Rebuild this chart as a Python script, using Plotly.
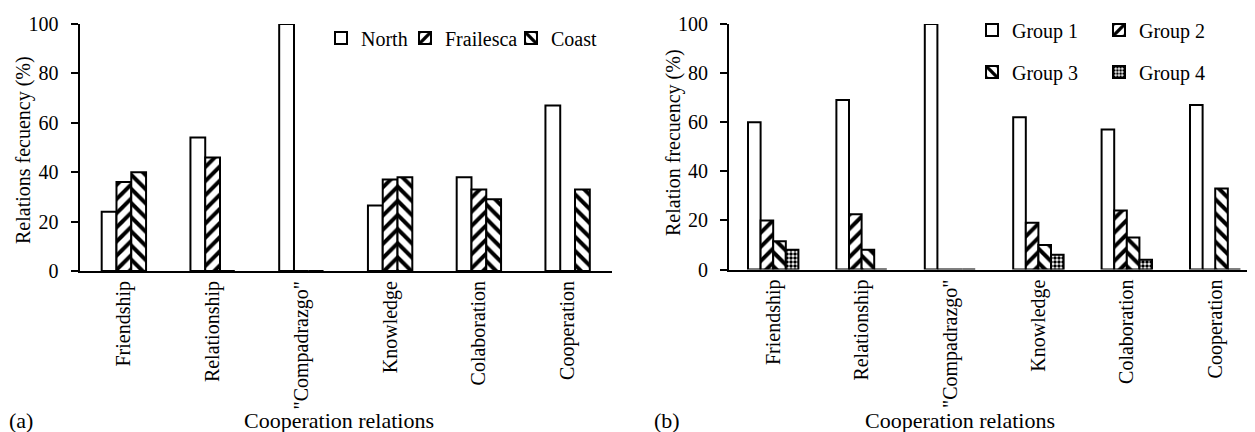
import plotly.graph_objects as go

categories = ["Friendship", "Relationship", "\"Compadrazgo\"", "Knowledge", "Colaboration", "Cooperation"]

# Panel (a): by region
north = [24, 54, 100, 26.5, 38, 67]
frailesca = [36, 46, 0, 37, 33, 0]
coast = [40, 0, 0, 38, 29, 33]

# Panel (b): by group
group1 = [60, 69, 100, 62, 57, 67]
group2 = [20, 22.5, 0, 19, 24, 0]
group3 = [11.5, 8, 0, 10, 13, 33]
group4 = [8, 0, 0, 6, 4, 0]

yticks = [0, 20, 40, 60, 80, 100]

# page body has an 8px margin: figure is laid out in screen pixels minus that offset
OFF = 8
W, H = 1255 - OFF, 432 - OFF
T = 24 - OFF
B = H - (271 - OFF)
PH = H - T - B
FONT = "Liberation Serif"
fs = 20

def fx(p):  # screen x -> paper x
    return (p - OFF) / W

def fy(p):  # screen y -> paper y
    return (H - B - (p - OFF)) / PH

fig = go.Figure()

def pat(shape, size=10, solidity=0.4):
    if shape == "":
        return dict(shape="")
    return dict(shape=shape, fgcolor="black", bgcolor="white", size=size, solidity=solidity, fillmode="replace")

# legend placement: (screen x of symbol's left edge, screen y of row centre)
leg_pos_a = [(338, 38), (422, 38), (528, 38)]
leg_pos_b = [(989, 30), (1116, 30), (989, 72), (1116, 72)]

series_a = [("North", north, ""), ("Frailesca", frailesca, "/"), ("Coast", coast, "\\")]
wa = 1 / 6
leg_layout = {}
n = 0
for i, (name, vals, shp) in enumerate(series_a):
    n += 1
    lg = "legend" if n == 1 else f"legend{n}"
    fig.add_trace(go.Bar(
        x=categories, y=vals, name=name, xaxis="x", yaxis="y",
        width=wa, offset=-0.25 + i * wa,
        marker=dict(color="white", line=dict(color="black", width=2), pattern=pat(shp)),
        legend=lg, showlegend=True,
    ))
    leg_layout[lg] = leg_pos_a[i]

series_b = [("Group 1", group1, ""), ("Group 2", group2, "/"),
            ("Group 3", group3, "\\"), ("Group 4", group4, ".")]
wb = 0.1426
for i, (name, vals, shp) in enumerate(series_b):
    n += 1
    lg = f"legend{n}"
    p = pat(shp, size=4, solidity=0.6) if shp == "." else pat(shp)
    fig.add_trace(go.Bar(
        x=categories, y=vals, name=name, xaxis="x2", yaxis="y2",
        width=wb, offset=-2 * wb + i * wb,
        marker=dict(color="white", line=dict(color="black", width=2), pattern=p),
        legend=lg, showlegend=True,
    ))
    leg_layout[lg] = leg_pos_b[i]

axis_font = dict(family=FONT, size=fs, color="black")
xcommon = dict(type="category", showline=True, linecolor="black", linewidth=2, ticks="",
               tickangle=-90, tickfont=axis_font, showgrid=False, zeroline=False, fixedrange=True,
               automargin=False)
ycommon = dict(range=[0, 100], tickvals=yticks, showline=True, linecolor="black", linewidth=2,
               ticks="outside", ticklen=7, tickwidth=1.5, tickcolor="black", tickfont=axis_font,
               showgrid=False, zeroline=False, ticklabelstandoff=8, automargin=False)

leg_common = dict(orientation="h", bgcolor="rgba(0,0,0,0)", font=dict(family=FONT, size=fs, color="black"),
                  xref="paper", yref="paper", xanchor="left", yanchor="middle",
                  itemclick=False, itemdoubleclick=False)

legends = {}
for lg, (sx, sy) in leg_layout.items():
    legends[lg] = dict(x=fx(sx - 3 - 14), y=fy(sy), **leg_common)

fig.update_layout(
    width=W, height=H,
    margin=dict(l=0, r=0, t=T, b=B, autoexpand=False),
    paper_bgcolor="white", plot_bgcolor="white",
    barmode="group",
    font=dict(family=FONT, size=fs, color="black"),
    xaxis=dict(domain=[fx(79.5), fx(612)], anchor="y", range=[-0.5, 5.5], **xcommon),
    yaxis=dict(domain=[0, 1], anchor="x", **ycommon),
    xaxis2=dict(domain=[fx(729), 1.0], anchor="y2", range=[-0.5, 5.45], **xcommon),
    yaxis2=dict(domain=[fy(269.5), 1], anchor="x2", **ycommon),
    showlegend=True,
    **legends,
)

big = dict(family=FONT, size=22, color="black")
anns = [
    dict(text="Relations fecuency (%)", x=fx(23), y=fy(150), textangle=-90),
    dict(text="Relation frecuency (%)", x=fx(673), y=fy(143), textangle=-90),
    dict(text="Cooperation relations", x=fx(339), y=fy(420), font=big),
    dict(text="Cooperation relations", x=fx(960), y=fy(420), font=big),
    dict(text="(a)", x=fx(21), y=fy(420), font=big),
    dict(text="(b)", x=fx(667), y=fy(420), font=big),
]
for a in anns:
    base = dict(xref="paper", yref="paper", xanchor="center", yanchor="middle",
                showarrow=False, font=dict(family=FONT, size=fs, color="black"))
    base.update(a)
    fig.add_annotation(**base)

fig.write_html("out.html")
